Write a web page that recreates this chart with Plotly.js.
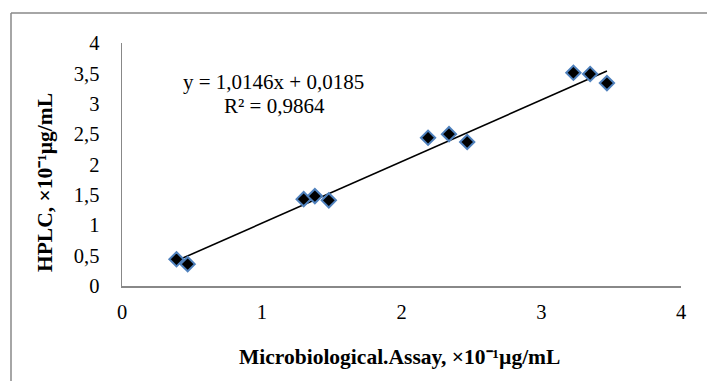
<!DOCTYPE html>
<html>
<head>
<meta charset="utf-8">
<script src="https://cdn.plot.ly/plotly-3.0.1.min.js"></script>
<style>
  html, body { margin: 0; padding: 0; background: #fff; }
  #chart { width: 707px; height: 381px; }
</style>
</head>
<body>
<div id="chart"></div>
<script>
// Data
const assayX = [0.39, 0.47, 1.30, 1.38, 1.48, 2.19, 2.34, 2.47, 3.23, 3.35, 3.47];
const hplcY  = [0.44, 0.36, 1.43, 1.48, 1.41, 2.44, 2.50, 2.37, 3.51, 3.49, 3.34];
const slope = 1.0146;
const intercept = 0.0185;
const equationLines = ["y = 1,0146x + 0,0185", "R² = 0,9864"];
const xTicks = [0, 1, 2, 3, 4];
const yTicks = [0, 0.5, 1, 1.5, 2, 2.5, 3, 3.5, 4];

const xMin = Math.min(...assayX), xMax = Math.max(...assayX);
const trendX = [xMin, xMax];
const trendY = trendX.map(v => slope * v + intercept);

const W = 707, H = 381;
const M = {l: 122, r: 26, t: 43, b: 95};
const pw = W - M.l - M.r, ph = H - M.t - M.b;
const px = x => (x - M.l) / pw;
const py = y => (H - M.b - y) / ph;

const serif = "Liberation Serif";

const traces = [
  {
    x: trendX, y: trendY, type: 'scatter', mode: 'lines',
    line: {color: '#000', width: 1.6}, hoverinfo: 'skip', showlegend: false
  },
  {
    x: assayX, y: hplcY, type: 'scatter', mode: 'markers',
    marker: {symbol: 'diamond', size: 11, color: '#000', line: {color: '#4F81BD', width: 2}},
    showlegend: false
  }
];

const layout = {
  width: W, height: H,
  margin: M,
  paper_bgcolor: '#fff', plot_bgcolor: '#fff',
  separators: ', ',
  font: {family: serif, size: 20, color: '#000'},
  showlegend: false,
  xaxis: {
    range: [0, 4], tickvals: xTicks, showgrid: false, zeroline: false,
    showline: true, linecolor: '#888', linewidth: 1.5, ticks: '',
    ticklabelstandoff: 7, tickfont: {family: serif, size: 20.5, color: '#000'}
  },
  yaxis: {
    range: [0, 4], tickvals: yTicks, showgrid: false, zeroline: false,
    showline: true, linecolor: '#888', linewidth: 1.5, ticks: '',
    ticklabelstandoff: 17, tickfont: {family: serif, size: 20.5, color: '#000'}
  },
  annotations: [
    {text: equationLines[0], xref: 'paper', yref: 'paper', x: px(273), y: py(82),
     showarrow: false, xanchor: 'center', yanchor: 'middle', font: {family: serif, size: 21, color: '#000'}},
    {text: equationLines[1], xref: 'paper', yref: 'paper', x: px(274), y: py(106),
     showarrow: false, xanchor: 'center', yanchor: 'middle', font: {family: serif, size: 21, color: '#000'}},
    {text: '<b>Microbiological.Assay, ×10⁻¹µg/mL</b>', xref: 'paper', yref: 'paper', x: px(399), y: py(357),
     showarrow: false, xanchor: 'center', yanchor: 'middle', font: {family: serif, size: 21.5, color: '#000'}},
    {text: '<b>HPLC, ×10⁻¹µg/mL</b>', xref: 'paper', yref: 'paper', x: px(45), y: py(183),
     showarrow: false, xanchor: 'center', yanchor: 'middle', textangle: -90, font: {family: serif, size: 21.5, color: '#000'}}
  ],
  shapes: [
    {type: 'line', xref: 'paper', yref: 'paper', x0: px(11), y0: py(13), x1: px(707), y1: py(13), line: {color: '#888', width: 1.5}},
    {type: 'line', xref: 'paper', yref: 'paper', x0: px(11), y0: py(13), x1: px(11), y1: py(381), line: {color: '#888', width: 1.5}}
  ]
};

Plotly.newPlot('chart', traces, layout, {displayModeBar: false, staticPlot: true});
</script>
</body>
</html>
